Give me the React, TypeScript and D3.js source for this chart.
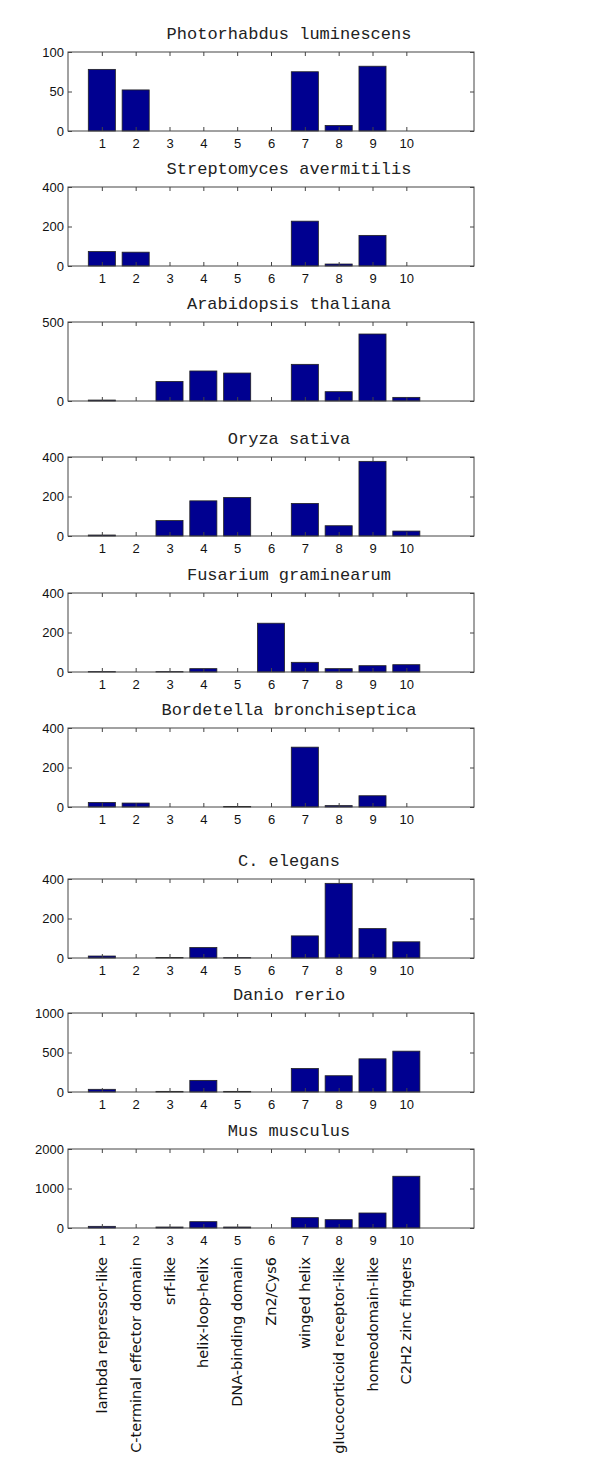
import React, { useEffect, useRef } from 'react';
import * as d3 from 'd3';

// domain families (x categories, numbered 1..10)
const categories = [
  'lambda repressor-like',
  'C-terminal effector domain',
  'srf-like',
  'helix-loop-helix',
  'DNA-binding domain',
  'Zn2/Cys6',
  'winged helix',
  'glucocorticoid receptor-like',
  'homeodomain-like',
  'C2H2 zinc fingers',
];

const species = [
  'Photorhabdus luminescens',
  'Streptomyces avermitilis',
  'Arabidopsis thaliana',
  'Oryza sativa',
  'Fusarium graminearum',
  'Bordetella bronchiseptica',
  'C. elegans',
  'Danio rerio',
  'Mus musculus',
];

// counts per family
const photorhabdus = [78, 52, 0, 0, 0, 0, 75, 7, 82, 0];
const streptomyces = [73, 70, 0, 0, 0, 0, 227, 10, 155, 0];
const arabidopsis = [6, 0, 124, 190, 177, 0, 232, 59, 424, 23];
const oryza = [5, 0, 78, 178, 195, 0, 165, 52, 378, 25];
const fusarium = [2, 0, 2, 17, 0, 247, 49, 17, 32, 37];
const bordetella = [23, 20, 0, 0, 3, 0, 303, 7, 57, 0];
const elegans = [10, 0, 3, 53, 2, 0, 112, 378, 149, 82];
const danio = [34, 0, 8, 147, 8, 0, 298, 206, 420, 517];
const mus = [42, 0, 25, 160, 25, 0, 262, 211, 380, 1310];

const counts = [photorhabdus, streptomyces, arabidopsis, oryza, fusarium, bordetella, elegans, danio, mus];

const yMax = [100, 400, 500, 400, 400, 400, 400, 1000, 2000];
const yTicks = [
  [0, 50, 100],
  [0, 200, 400],
  [0, 500],
  [0, 200, 400],
  [0, 200, 400],
  [0, 200, 400],
  [0, 200, 400],
  [0, 500, 1000],
  [0, 1000, 2000],
];
const xTicks = [1, 2, 3, 4, 5, 6, 7, 8, 9, 10];
const showXLabels = [true, true, false, true, true, true, true, true, true];

// layout
const W = 600;
const H = 1482;
const boxLeft = 68;
const boxRight = 474;
const boxH = 79;
const panelTops = [52, 187, 322, 457, 593, 728, 879, 1013, 1149];
const titleX = 289;

const App = () => {
  const svgRef = useRef<SVGSVGElement>(null);

  useEffect(() => {
    const svg = d3.select(svgRef.current);
    svg.selectAll('*').remove();

    svg.append('rect').attr('width', W).attr('height', H).attr('fill', '#fff');

    const x = d3.scaleLinear().domain([0, 12]).range([boxLeft, boxRight]);
    const barW = 0.8 * (x(1) - x(0));
    const axisColor = '#444';

    counts.forEach((vals, p) => {
      const top = panelTops[p];
      const y = d3.scaleLinear().domain([0, yMax[p]]).range([top + boxH, top]);
      const g = svg.append('g');

      // bars
      g.selectAll('rect.bar')
        .data(vals)
        .enter()
        .append('rect')
        .attr('class', 'bar')
        .attr('x', (d, i) => x(i + 1) - barW / 2)
        .attr('y', (d) => y(d))
        .attr('width', barW)
        .attr('height', (d) => y(0) - y(d))
        .attr('fill', '#000090')
        .attr('stroke', '#222')
        .attr('stroke-width', 0.8);

      // box
      g.append('rect')
        .attr('x', boxLeft)
        .attr('y', top)
        .attr('width', boxRight - boxLeft)
        .attr('height', boxH)
        .attr('fill', 'none')
        .attr('stroke', axisColor)
        .attr('stroke-width', 1);

      const bottomAxis = d3.axisBottom(x)
        .tickValues(xTicks)
        .tickSizeInner(-4)
        .tickSizeOuter(0)
        .tickPadding(8)
        .tickFormat((d) => (showXLabels[p] ? String(d) : ''));
      const topAxis = d3.axisTop(x).tickValues(xTicks).tickSizeInner(-4).tickSizeOuter(0).tickFormat(() => '');
      const leftAxis = d3.axisLeft(y)
        .tickValues(yTicks[p])
        .tickSizeInner(-4)
        .tickSizeOuter(0)
        .tickPadding(4)
        .tickFormat(d3.format('d'));
      const rightAxis = d3.axisRight(y).tickValues(yTicks[p]).tickSizeInner(-4).tickSizeOuter(0).tickFormat(() => '');

      const axes = [
        g.append('g').attr('transform', `translate(0,${top + boxH})`).call(bottomAxis),
        g.append('g').attr('transform', `translate(0,${top})`).call(topAxis),
        g.append('g').attr('transform', `translate(${boxLeft},0)`).call(leftAxis),
        g.append('g').attr('transform', `translate(${boxRight},0)`).call(rightAxis),
      ];
      axes.forEach((a) => {
        a.select('.domain').remove();
        a.selectAll('line').attr('stroke', axisColor);
        a.selectAll('text')
          .attr('fill', '#111')
          .style('font-family', '"Liberation Sans", Arial, sans-serif')
          .style('font-size', '13px');
      });

      // title
      g.append('text')
        .attr('x', titleX)
        .attr('y', top - 13)
        .attr('text-anchor', 'middle')
        .style('font-family', '"Liberation Mono", "Courier New", monospace')
        .style('font-size', '17px')
        .attr('fill', '#222')
        .text(species[p]);
    });

    // rotated category names under the last panel
    svg.append('g')
      .selectAll('text')
      .data(categories)
      .enter()
      .append('text')
      .attr('transform', (d, i) => `translate(${x(i + 1)},1257) rotate(-90)`)
      .attr('text-anchor', 'end')
      .attr('dy', '0.35em')
      .style('font-family', '"DejaVu Sans", sans-serif')
      .style('font-size', '14.5px')
      .attr('fill', '#111')
      .text((d) => d);
  }, []);

  return (
    <svg
      ref={svgRef}
      width={W}
      height={H}
      style={{ position: 'absolute', left: 0, top: 0 }}
    ></svg>
  );
};

export default App;
